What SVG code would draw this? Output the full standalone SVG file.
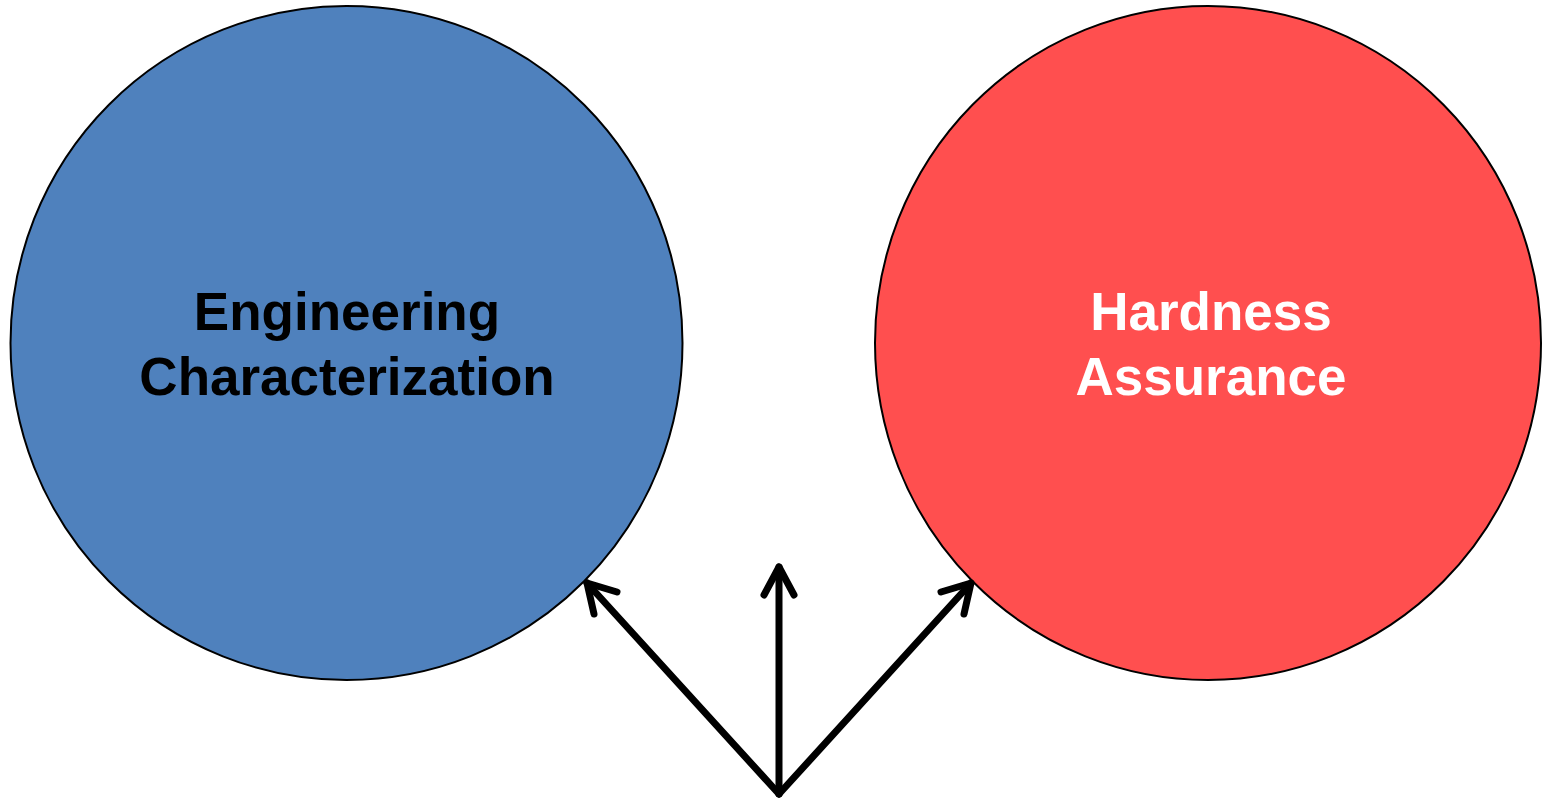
<svg xmlns="http://www.w3.org/2000/svg" width="1543" height="799" viewBox="0 0 1543 799">
<style>
.lbl{font-family:"Liberation Sans",Arial,sans-serif;font-weight:bold;font-size:53px;text-anchor:middle}
.arr{fill:none;stroke:#000;stroke-width:7;stroke-linecap:round;stroke-linejoin:round}
</style>
<rect width="1543" height="799" fill="#fff"/>
<g id="engineering">
<ellipse cx="346.5" cy="343" rx="336" ry="337" fill="#4F81BD" stroke="#000" stroke-width="2"/>
<text class="lbl" x="347" y="330" fill="#000">Engineering</text>
<text class="lbl" x="347" y="395" fill="#000">Characterization</text>
</g>
<g id="hardness">
<ellipse cx="1208" cy="343" rx="333" ry="337" fill="#FF4F4F" stroke="#000" stroke-width="2"/>
<text class="lbl" x="1211" y="330" fill="#fff">Hardness</text>
<text class="lbl" x="1211" y="395" fill="#fff">Assurance</text>
</g>
<g id="connectors">
<polyline class="arr" points="779,794 587,583"/>
<polyline class="arr" points="617,592 587,583 594,614"/>
<polyline class="arr" points="779,794 779,567"/>
<polyline class="arr" points="764,595 779,567 794,595"/>
<polyline class="arr" points="779,794 971,583"/>
<polyline class="arr" points="941,592 971,583 964,614"/>
</g>
</svg>
